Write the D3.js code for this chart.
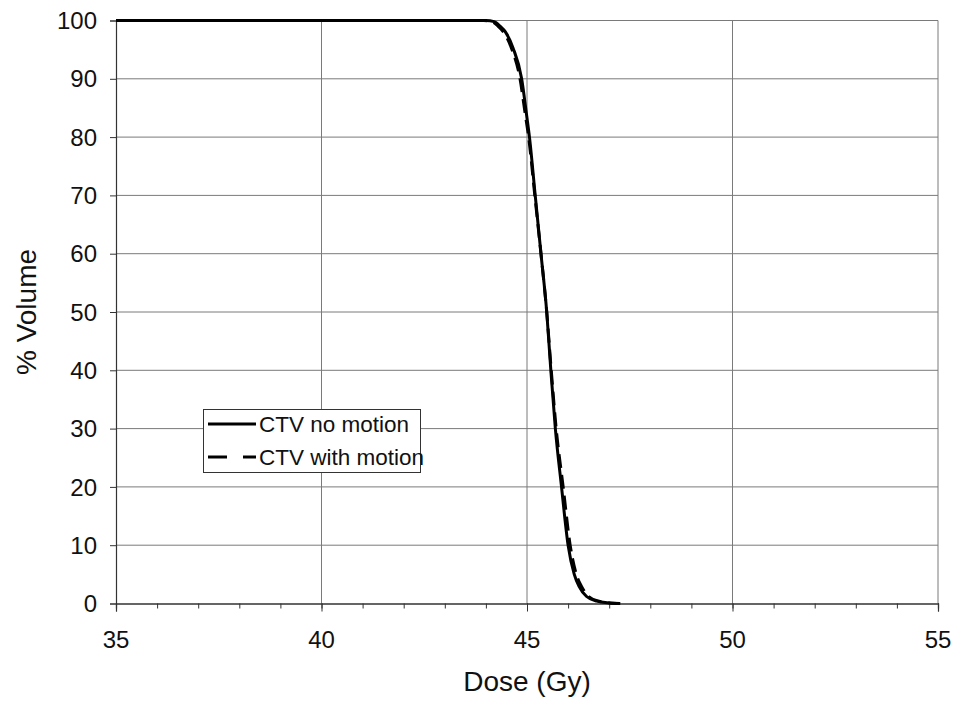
<!DOCTYPE html>
<html>
<head>
<meta charset="utf-8">
<script src="https://cdn.jsdelivr.net/npm/d3@7"></script>
<style>
  body { margin: 0; background: #fff; }
  svg { font-family: Arial, "Liberation Sans", sans-serif; }
</style>
</head>
<body>
<svg id="chart" width="956" height="702"></svg>
<script>
// dose (Gy) vs % volume
var doseNoMotion = [35, 44.0, 44.2, 44.35, 44.47, 44.66, 44.87, 44.99, 45.06, 45.2, 45.34, 45.48, 45.58, 45.69, 45.84, 46.0, 46.15, 46.27, 46.45, 46.7, 47.0, 47.27];
var volNoMotion  = [100, 100, 99.8, 99.0, 98.1, 95.3, 90, 83.8, 80, 70, 60, 50, 40, 30, 20, 10, 5, 2.9, 1.2, 0.4, 0.1, 0];

var doseWithMotion = [35, 43.95, 44.15, 44.3, 44.42, 44.62, 44.83, 44.96, 45.04, 45.19, 45.34, 45.48, 45.59, 45.71, 45.88, 46.05, 46.2, 46.33, 46.5, 46.75, 47.02, 47.25];
var volWithMotion  = [100, 100, 99.8, 99.0, 98.1, 95.3, 90, 83.8, 80, 70, 60, 50, 40, 30, 20, 10, 5, 2.9, 1.2, 0.4, 0.1, 0];

var xTicks = [35, 40, 45, 50, 55];
var xMinorTicks = d3.range(35, 56, 1);
var yTicks = [0, 10, 20, 30, 40, 50, 60, 70, 80, 90, 100];
var legendLabels = ["CTV no motion", "CTV with motion"];

var svg = d3.select("#chart");

var x = d3.scaleLinear().domain([35, 55]).range([116, 938]);
var y = d3.scaleLinear().domain([0, 100]).range([603.5, 20.5]);

// gridlines
svg.append("g").selectAll("line")
    .data(yTicks.slice(1))
    .enter().append("line")
    .attr("x1", x(35)).attr("x2", x(55))
    .attr("y1", function(d){ return y(d); })
    .attr("y2", function(d){ return y(d); })
    .attr("stroke", "#7a7a7a").attr("stroke-width", 1);

svg.append("g").selectAll("line")
    .data(xTicks.slice(1))
    .enter().append("line")
    .attr("x1", function(d){ return x(d); })
    .attr("x2", function(d){ return x(d); })
    .attr("y1", y(0)).attr("y2", y(100))
    .attr("stroke", "#7a7a7a").attr("stroke-width", 1);

// axes
var xAxis = svg.append("g")
    .attr("transform", "translate(0," + y(0) + ")")
    .call(d3.axisBottom(x).tickValues(xMinorTicks).tickSize(5).tickFormat(""));
var xAxisMajor = svg.append("g")
    .attr("transform", "translate(0," + y(0) + ")")
    .call(d3.axisBottom(x).tickValues(xTicks).tickSize(8).tickFormat(""));
var yAxis = svg.append("g")
    .attr("transform", "translate(" + x(35) + ",0)")
    .call(d3.axisLeft(y).tickValues(yTicks).tickSize(6).tickFormat(""));

[xAxis, xAxisMajor, yAxis].forEach(function(g){
    g.select(".domain").attr("stroke", "#333").attr("stroke-width", 1.2);
    g.selectAll(".tick line").attr("stroke", "#333");
});

// tick labels
svg.append("g").selectAll("text")
    .data(xTicks)
    .enter().append("text")
    .attr("x", function(d){ return x(d); })
    .attr("y", 648)
    .attr("text-anchor", "middle")
    .attr("font-size", 24)
    .attr("fill", "#111")
    .text(function(d){ return d; });

svg.append("g").selectAll("text")
    .data(yTicks)
    .enter().append("text")
    .attr("x", 97)
    .attr("y", function(d){ return y(d); })
    .attr("dy", "0.36em")
    .attr("text-anchor", "end")
    .attr("font-size", 24)
    .attr("fill", "#111")
    .text(function(d){ return d; });

// axis titles
svg.append("text")
    .attr("x", 527).attr("y", 691)
    .attr("text-anchor", "middle")
    .attr("font-size", 28)
    .attr("fill", "#111")
    .text("Dose (Gy)");

svg.append("text")
    .attr("transform", "translate(36,312) rotate(-90)")
    .attr("text-anchor", "middle")
    .attr("font-size", 28)
    .attr("fill", "#111")
    .text("% Volume");

// curves
var line = d3.line()
    .x(function(d){ return x(d[0]); })
    .y(function(d){ return y(d[1]); })
    .curve(d3.curveMonotoneX);

svg.append("path")
    .attr("d", line(d3.zip(doseWithMotion, volWithMotion)))
    .attr("fill", "none")
    .attr("stroke", "#000")
    .attr("stroke-width", 3)
    .attr("stroke-dasharray", "14,7");

svg.append("path")
    .attr("d", line(d3.zip(doseNoMotion, volNoMotion)))
    .attr("fill", "none")
    .attr("stroke", "#000")
    .attr("stroke-width", 3);

// legend
var legend = svg.append("g");
legend.append("rect")
    .attr("x", 203.5).attr("y", 409.5)
    .attr("width", 217).attr("height", 63)
    .attr("fill", "#fff")
    .attr("stroke", "#333").attr("stroke-width", 1);

legend.selectAll("line")
    .data(legendLabels)
    .enter().append("line")
    .attr("x1", 208).attr("x2", 256)
    .attr("y1", function(d, i){ return 424 + i * 33; })
    .attr("y2", function(d, i){ return 424 + i * 33; })
    .attr("stroke", "#000").attr("stroke-width", 3)
    .attr("stroke-dasharray", function(d, i){ return i ? "19,16" : null; });

legend.selectAll("text")
    .data(legendLabels)
    .enter().append("text")
    .attr("x", 259)
    .attr("y", function(d, i){ return 424 + i * 33; })
    .attr("dy", "0.36em")
    .attr("font-size", 22.5)
    .attr("fill", "#111")
    .text(function(d){ return d; });
</script>
</body>
</html>
